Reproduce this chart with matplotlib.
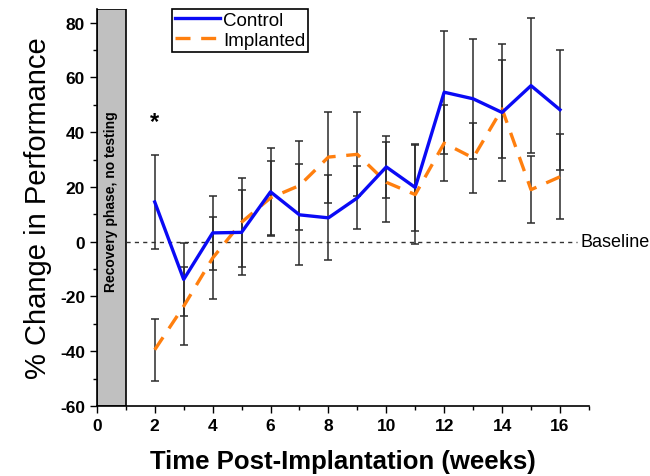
import numpy as np
import matplotlib as mpl
from matplotlib import pyplot as plt
from matplotlib.ticker import MultipleLocator

# font setup
mpl.rcParams['font.family'] = ['Liberation Sans', 'DejaVu Sans']
mpl.rcParams['axes.unicode_minus'] = False

# data
weeks = [2, 3, 4, 5, 6, 7, 8, 9, 10, 11, 12, 13, 14, 15, 16]
control = [14.5, -13.8, 3.2, 3.4, 18.2, 9.8, 8.7, 16.0, 27.3, 19.8, 54.6, 52.2, 47.2, 57.0, 48.2]
control_err = [17.0, 13.4, 13.4, 15.6, 16.2, 18.4, 15.5, 11.5, 11.4, 16.0, 22.5, 22.0, 25.0, 24.6, 21.9]
implanted = [-39.5, -23.6, -6.0, 7.1, 16.0, 20.5, 30.9, 31.9, 21.7, 17.2, 36.0, 30.6, 48.5, 19.0, 23.7]
implanted_err = [11.3, 14.2, 15.1, 16.3, 13.5, 16.2, 16.6, 15.3, 14.6, 18.1, 13.8, 12.9, 17.8, 12.2, 15.5]

c_ctrl = '#0A0AF5'
c_impl = '#FF7F0E'
c_err = '#2b2b2b'

fig = plt.figure(figsize=(6.5, 4.77), dpi=100)
ax = fig.add_axes([0.149, 0.147, 0.757, 0.832])

# error bars first, then the lines on top
ax.errorbar(weeks, control, yerr=control_err, fmt='none', ecolor=c_err,
            elinewidth=1.1, capsize=3, capthick=1.1, zorder=2)
ax.errorbar(weeks, implanted, yerr=implanted_err, fmt='none', ecolor=c_err,
            elinewidth=1.1, capsize=3, capthick=1.1, zorder=2)
ax.plot(weeks, control, color=c_ctrl, lw=2.4, label='Control', zorder=4)
ax.plot(weeks, implanted, color=c_impl, lw=2.4, ls=(0, (4.5, 3.2)),
        label='Implanted', zorder=3)

# recovery phase box
ax.axvspan(0, 1, color='#c0c0c0', ec='black', lw=1.2, zorder=1)
ax.text(0.5, 15, 'Recovery phase, no testing', rotation=90, ha='center',
        va='center', fontsize=10, fontweight='bold', zorder=5)

# baseline
ax.plot([1, 16.6], [0, 0], color='#333333', lw=1, ls=(0, (3, 3)), zorder=1)
ax.text(16.7, 0, 'Baseline', ha='left', va='center', fontsize=13)

# significance marker
ax.text(2, 44, '*', ha='center', va='center', fontsize=17, fontweight='bold')

ax.set_xlim(0, 17)
ax.set_ylim(-60, 85)
ax.set_xticks(range(0, 17, 2))
ax.set_yticks(range(-60, 81, 20))
ax.xaxis.set_minor_locator(MultipleLocator(1))
ax.yaxis.set_minor_locator(MultipleLocator(10))
ax.tick_params(which='major', length=5, width=1, labelsize=12.5)
ax.tick_params(which='minor', length=3, width=1)
for lab in ax.get_xticklabels() + ax.get_yticklabels():
    lab.set_fontweight('bold')

ax.spines['top'].set_visible(False)
ax.spines['right'].set_visible(False)
ax.spines['left'].set_linewidth(1.2)
ax.spines['bottom'].set_linewidth(1.2)

ax.set_xlabel('Time Post-Implantation (weeks)', fontsize=18.5,
              fontweight='bold', labelpad=12)
ax.set_ylabel('% Change in Performance', fontsize=21, labelpad=6)

leg = ax.legend(loc='upper left', bbox_to_anchor=(0.153, 1.0), borderaxespad=0,
                fancybox=False, edgecolor='black', framealpha=1, fontsize=13.5,
                handlelength=2.4, borderpad=0.15, labelspacing=0.15,
                handletextpad=0.15)
leg.get_frame().set_linewidth(1.2)

plt.savefig('out.png', dpi=100)
